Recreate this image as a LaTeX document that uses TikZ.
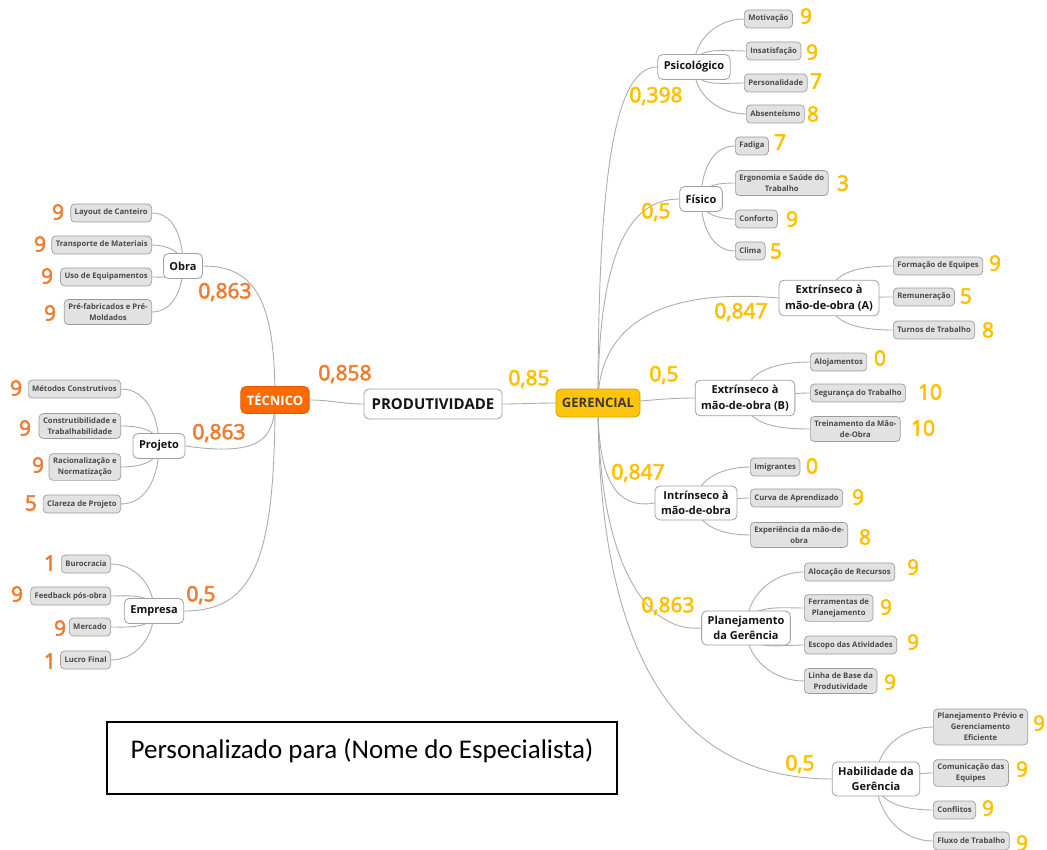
\documentclass[tikz,border=0pt]{standalone}
\usepackage{fontspec}
\setmainfont{Open Sans}
\newfontfamily\notefont{Carlito}
\newfontfamily\numfont[FakeBold=3]{Open Sans}
\usetikzlibrary{backgrounds}
\definecolor{linkgray}{HTML}{ADADAD}
\definecolor{leaffill}{HTML}{E2E2E2}
\definecolor{leafline}{HTML}{9C9C9C}
\definecolor{leaftext}{HTML}{4A4A4A}
\definecolor{topicline}{HTML}{A0A0A0}
\definecolor{topictext}{HTML}{141414}
\definecolor{tecfill}{HTML}{FF6A00}
\definecolor{tecline}{HTML}{E05A00}
\definecolor{gerfill}{HTML}{FFC50A}
\definecolor{gerline}{HTML}{D4A300}
\definecolor{gertext}{HTML}{3A3A3A}
\definecolor{orangenum}{HTML}{EE7D32}
\definecolor{yellownum}{HTML}{FFC000}
\begin{document}
\begin{tikzpicture}[x=1pt,y=1pt,
  link/.style={draw=linkgray, line width=0.9pt},
  leaf/.style={draw=leafline, fill=leaffill, rounded corners=4pt, line width=0.7pt,
    text=leaftext, font=\fontsize{7.7}{11}\selectfont\bfseries, align=center,
    inner xsep=4pt, inner ysep=4pt, minimum height=18pt},
  topic/.style={draw=topicline, fill=white, rounded corners=5pt, line width=0.8pt,
    text=topictext, font=\fontsize{11}{15.5}\selectfont\bfseries, align=center,
    inner xsep=6pt, inner ysep=5pt, minimum height=25pt},
  wtec/.style={text=orangenum, font=\numfont\fontsize{21}{21}\selectfont, inner sep=0pt},
  wger/.style={text=yellownum, font=\numfont\fontsize{21}{21}\selectfont, inner sep=0pt},
]
\useasboundingbox (0,0) rectangle (1047,-850);

% ---------- central topic and the two main branches ----------
\node[topic, font=\fontsize{15}{17}\selectfont\bfseries, minimum width=138pt, minimum height=30pt] (prod) at (433,-404) {PRODUTIVIDADE};
\node[topic, fill=tecfill, draw=tecline, text=white, font=\fontsize{13}{15}\selectfont\bfseries, minimum width=67pt, minimum height=27pt] (tec) at (275,-400) {TÉCNICO};
\node[topic, fill=gerfill, draw=gerline, text=gertext, font=\fontsize{13}{15}\selectfont\bfseries, minimum width=83pt, minimum height=28pt] (ger) at (598,-403) {GERENCIAL};
\node[wtec] (w-tec) at (345,-374) {0,858};
\node[wger] (w-ger) at (529,-379) {0,85};

% ---------- TÉCNICO subtopics ----------
\node[topic] (obra) at (183,-266) {Obra};
\node[topic] (proj) at (159,-446) {Projeto};
\node[topic] (emp) at (154,-611) {Empresa};
\node[wtec] (w-obra) at (225,-292) {0,863};
\node[wtec] (w-proj) at (219,-433) {0,863};
\node[wtec] (w-emp) at (201,-595) {0,5};

% Obra
\node[leaf, anchor=east] (lay) at (152,-213) {Layout de Canteiro};
\node[leaf, anchor=east] (tra) at (152,-245) {Transporte de Materiais};
\node[leaf, anchor=east] (uso) at (152,-277) {Uso de Equipamentos};
\node[leaf, anchor=east] (pre) at (152,-312) {Pré-fabricados e Pré-\\Moldados};
\node[wtec] (n-lay) at (58,-212) {9};
\node[wtec] (n-tra) at (40,-244) {9};
\node[wtec] (n-uso) at (47,-276) {9};
\node[wtec] (n-pre) at (50,-313) {9};

% Projeto
\node[leaf, anchor=east] (met) at (121,-389) {Métodos Construtivos};
\node[leaf, anchor=east] (con) at (121,-426) {Construtibilidade e\\Trabalhabilidade};
\node[leaf, anchor=east] (rac) at (121,-467) {Racionalização e\\Normatização};
\node[leaf, anchor=east] (cla) at (121,-504) {Clareza de Projeto};
\node[wtec] (n-met) at (16,-388) {9};
\node[wtec] (n-con) at (25,-428) {9};
\node[wtec] (n-rac) at (38,-465) {9};
\node[wtec] (n-cla) at (31,-503) {5};

% Empresa
\node[leaf, anchor=east] (bur) at (111,-564) {Burocracia};
\node[leaf, anchor=east] (fee) at (111,-596) {Feedback pós-obra};
\node[leaf, anchor=east] (mer) at (111,-627) {Mercado};
\node[leaf, anchor=east] (luc) at (111,-660) {Lucro Final};
\node[wtec] (n-bur) at (50,-563) {1};
\node[wtec] (n-fee) at (17,-594) {9};
\node[wtec] (n-mer) at (60,-628) {9};
\node[wtec] (n-luc) at (50,-661) {1};

% ---------- GERENCIAL subtopics ----------
\node[topic] (psi) at (694,-67) {Psicológico};
\node[topic] (fis) at (701,-199) {Físico};
\node[topic] (exa) at (829,-298) {Extrínseco à\\mão-de-obra (A)};
\node[topic] (exb) at (745,-398) {Extrínseco à\\mão-de-obra (B)};
\node[topic] (int) at (696,-503) {Intrínseco à\\mão-de-obra};
\node[topic] (pla) at (746,-628) {Planejamento\\da Gerência};
\node[topic] (hab) at (876,-779) {Habilidade da\\Gerência};
\node[wger] (w-psi) at (656,-96) {0,398};
\node[wger] (w-fis) at (656,-212) {0,5};
\node[wger] (w-exa) at (741,-312) {0,847};
\node[wger] (w-exb) at (664,-375) {0,5};
\node[wger] (w-int) at (638,-473) {0,847};
\node[wger] (w-pla) at (668,-606) {0,863};
\node[wger] (w-hab) at (800,-764) {0,5};

% Psicológico
\node[leaf, anchor=west] (mot) at (744,-19) {Motivação};
\node[leaf, anchor=west] (ins) at (746,-51) {Insatisfação};
\node[leaf, anchor=west] (per) at (744,-83) {Personalidade};
\node[leaf, anchor=west] (abs) at (746,-114) {Absenteísmo};
\node[wger] (n-mot) at (806,-16) {9};
\node[wger] (n-ins) at (812,-52) {9};
\node[wger] (n-per) at (816,-81) {7};
\node[wger] (n-abs) at (813,-114) {8};

% Físico
\node[leaf, anchor=west] (fad) at (735,-146) {Fadiga};
\node[leaf, anchor=west] (erg) at (735,-183) {Ergonomia e Saúde do\\Trabalho};
\node[leaf, anchor=west] (cnf) at (735,-219) {Conforto};
\node[leaf, anchor=west] (cli) at (735,-251) {Clima};
\node[wger] (n-fad) at (780,-142) {7};
\node[wger] (n-erg) at (843,-183) {3};
\node[wger] (n-cnf) at (792,-219) {9};
\node[wger] (n-cli) at (776,-251) {5};

% Extrínseco (A)
\node[leaf, anchor=west] (for) at (893,-266) {Formação de Equipes};
\node[leaf, anchor=west] (rem) at (893,-297) {Remuneração};
\node[leaf, anchor=west] (tur) at (893,-330) {Turnos de Trabalho};
\node[wger] (n-for) at (995,-263) {9};
\node[wger] (n-rem) at (966,-296) {5};
\node[wger] (n-tur) at (988,-330) {8};

% Extrínseco (B)
\node[leaf, anchor=west] (alo) at (810,-362) {Alojamentos};
\node[leaf, anchor=west] (seg) at (810,-393) {Segurança do Trabalho};
\node[leaf, anchor=west] (tre) at (810,-429) {Treinamento da Mão-\\de-Obra};
\node[wger] (n-alo) at (880,-358) {0};
\node[wger] (n-seg) at (930,-392) {10};
\node[wger] (n-tre) at (923,-428) {10};

% Intrínseco
\node[leaf, anchor=west] (imi) at (750,-467) {Imigrantes};
\node[leaf, anchor=west] (cur) at (750,-498) {Curva de Aprendizado};
\node[leaf, anchor=west] (exp) at (750,-535) {Experiência da mão-de-\\obra};
\node[wger] (n-imi) at (812,-466) {0};
\node[wger] (n-cur) at (858,-497) {9};
\node[wger] (n-exp) at (865,-537) {8};

% Planejamento da Gerência
\node[leaf, anchor=west] (alc) at (804,-572) {Alocação de Recursos};
\node[leaf, anchor=west] (fer) at (804,-608) {Ferramentas de\\Planejamento};
\node[leaf, anchor=west] (esc) at (804,-645) {Escopo das Atividades};
\node[leaf, anchor=west] (lin) at (804,-681) {Linha de Base da\\Produtividade};
\node[wger] (n-alc) at (913,-567) {9};
\node[wger] (n-fer) at (886,-607) {9};
\node[wger] (n-esc) at (913,-642) {9};
\node[wger] (n-lin) at (890,-682) {9};

% Habilidade da Gerência
\node[leaf, anchor=west] (ppe) at (933,-727) {Planejamento Prévio e\\Gerenciamento\\Eficiente};
\node[leaf, anchor=west] (com) at (933,-773) {Comunicação das\\Equipes};
\node[leaf, anchor=west] (cfl) at (933,-810) {Conflitos};
\node[leaf, anchor=west] (flu) at (933,-841) {Fluxo de Trabalho};
\node[wger] (n-ppe) at (1039,-723) {9};
\node[wger] (n-com) at (1022,-769) {9};
\node[wger] (n-cfl) at (988,-808) {9};
\node[wger] (n-flu) at (1022,-843) {9};

% ---------- note box ----------
\node[draw=black, line width=1.6pt, minimum width=510pt, minimum height=72pt,
  font=\notefont\fontsize{27}{30}\selectfont, text height=20pt, text depth=20pt] (note) at (362,-758)
  {Personalizado para (Nome do Especialista)};

% ---------- connectors (behind the boxes) ----------
\begin{pgfonlayer}{background}
\draw[link] (tec.east) to[out=0,in=180] (prod.west);
\draw[link] (prod.east) to[out=0,in=180] (ger.west);

\draw[link] (tec.center) to[out=90,in=0,out distance=95pt,in distance=55pt] (obra.east);
\draw[link] (tec.center) to[out=-90,in=-8,out distance=40pt,in distance=75pt] (proj.east);
\draw[link] (tec.center) to[out=-90,in=0,out distance=160pt,in distance=70pt] (emp.east);

\foreach \c in {lay,tra} \draw[link] (\c.east) to[out=0,in=90] (obra.center);
\foreach \c in {uso,pre} \draw[link] (\c.east) to[out=0,in=-90] (obra.center);
\foreach \c in {met,con} \draw[link] (\c.east) to[out=0,in=90] (proj.center);
\foreach \c in {rac,cla} \draw[link] (\c.east) to[out=0,in=-90] (proj.center);
\foreach \c in {bur,fee} \draw[link] (\c.east) to[out=0,in=90] (emp.center);
\foreach \c in {mer,luc} \draw[link] (\c.east) to[out=0,in=-90] (emp.center);

\draw[link] (ger.center) to[out=90,in=180,out distance=244pt,in distance=40pt] (psi.west);
\draw[link] (ger.center) to[out=90,in=180,out distance=150pt,in distance=50pt] (fis.west);
\draw[link] (ger.center) to[out=90,in=175,out distance=70pt,in distance=130pt] (exa.west);
\draw[link] (ger.center) to[out=0,in=180] (exb.west);
\draw[link] (ger.center) to[out=-90,in=-170,out distance=65pt,in distance=45pt] (int.west);
\draw[link] (ger.center) to[out=-90,in=-175,out distance=150pt,in distance=60pt] (pla.west);
\draw[link] (ger.center) to[out=-90,in=180,out distance=260pt,in distance=150pt] (hab.west);

\foreach \c in {mot,ins} \draw[link] (psi.center) to[out=90,in=180] (\c.west);
\foreach \c in {per,abs} \draw[link] (psi.center) to[out=-90,in=180] (\c.west);
\foreach \c in {fad,erg} \draw[link] (fis.center) to[out=90,in=180] (\c.west);
\foreach \c in {cnf,cli} \draw[link] (fis.center) to[out=-90,in=180] (\c.west);
\draw[link] (exa.center) to[out=90,in=180] (for.west);
\draw[link] (exa.center) to[out=0,in=180] (rem.west);
\draw[link] (exa.center) to[out=-90,in=180] (tur.west);
\draw[link] (exb.center) to[out=90,in=180] (alo.west);
\draw[link] (exb.center) to[out=0,in=180] (seg.west);
\draw[link] (exb.center) to[out=-90,in=180] (tre.west);
\draw[link] (int.center) to[out=90,in=180] (imi.west);
\draw[link] (int.center) to[out=0,in=180] (cur.west);
\draw[link] (int.center) to[out=-90,in=180] (exp.west);
\foreach \c in {alc,fer} \draw[link] (pla.center) to[out=90,in=180] (\c.west);
\foreach \c in {esc,lin} \draw[link] (pla.center) to[out=-90,in=180] (\c.west);
\draw[link] (hab.center) to[out=90,in=180] (ppe.west);
\draw[link] (hab.center) to[out=0,in=180] (com.west);
\foreach \c in {cfl,flu} \draw[link] (hab.center) to[out=-90,in=180] (\c.west);
\end{pgfonlayer}
\end{tikzpicture}
\end{document}
